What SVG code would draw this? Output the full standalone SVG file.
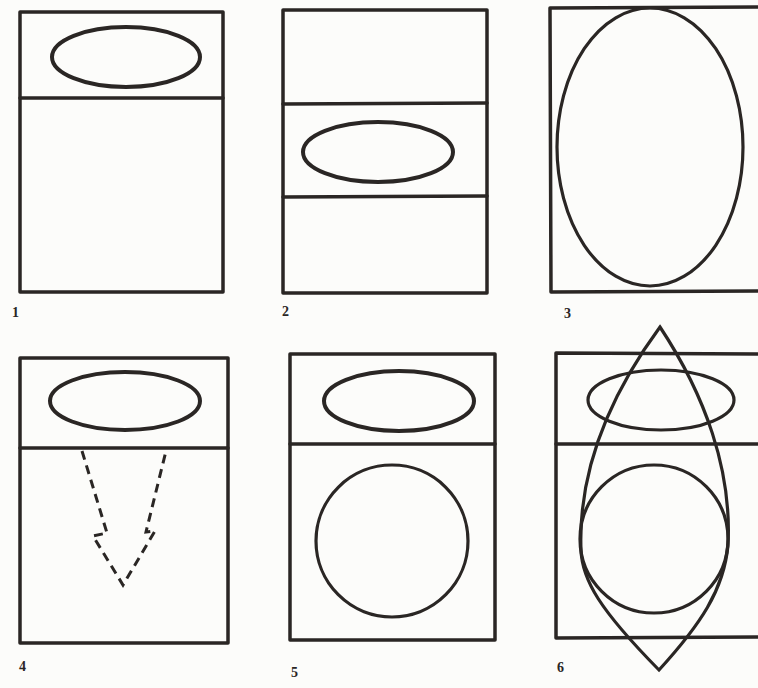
<svg xmlns="http://www.w3.org/2000/svg" width="758" height="688" viewBox="0 0 758 688">
<style>
.ln{fill:none;stroke:#2a2624;stroke-width:3.5;stroke-linejoin:round;stroke-linecap:round}
.el{fill:none;stroke:#2a2624;stroke-width:4}
.th{fill:none;stroke:#2a2624;stroke-width:3.2}
.ds{fill:none;stroke:#2a2624;stroke-width:3;stroke-dasharray:9 6;stroke-linejoin:miter}
.lb{font-family:"Liberation Serif",serif;font-weight:bold;font-size:14px;fill:#2a2624}
</style>
<rect width="758" height="688" fill="#fcfcfa"/>
<g id="panel1">
<rect class="ln" x="20" y="12" width="203" height="280"/>
<line class="ln" x1="20" y1="98" x2="223" y2="98"/>
<ellipse class="el" cx="126" cy="57" rx="74" ry="30"/>
<text class="lb" x="12" y="317">1</text>
</g>
<g id="panel2">
<rect class="ln" x="283" y="10" width="204" height="283"/>
<line class="ln" x1="283" y1="104" x2="487" y2="103"/>
<line class="ln" x1="283" y1="197" x2="487" y2="196"/>
<ellipse class="el" cx="378" cy="152" rx="75" ry="30"/>
<text class="lb" x="282" y="316">2</text>
</g>
<g id="panel3">
<polyline class="ln" points="760,7 550,8 551,292 760,291"/>
<ellipse class="th" cx="650" cy="147" rx="93" ry="139"/>
<text class="lb" x="564" y="318">3</text>
</g>
<g id="panel4">
<rect class="ln" x="20" y="358" width="208" height="285"/>
<line class="ln" x1="20" y1="448" x2="228" y2="448"/>
<ellipse class="el" cx="125" cy="401" rx="75" ry="29"/>
<polyline class="ds" points="82,451 107,533 93,536 123,585 155,531 146,532 166,451"/>
<text class="lb" x="19" y="671">4</text>
</g>
<g id="panel5">
<rect class="ln" x="290" y="354" width="205" height="286"/>
<line class="ln" x1="290" y1="444" x2="495" y2="444"/>
<ellipse class="el" cx="399" cy="401" rx="75" ry="30"/>
<circle class="th" cx="392" cy="541" r="76"/>
<text class="lb" x="291" y="677">5</text>
</g>
<g id="panel6">
<polyline class="ln" points="760,354 556,353 556,638 760,637"/>
<line class="ln" x1="556" y1="444" x2="760" y2="444"/>
<ellipse class="th" cx="661" cy="400" rx="73" ry="30"/>
<circle class="th" cx="654" cy="539" r="74"/>
<path class="th" d="M660,327 C610,395 578,470 581,550 C582,580 600,610 659,670 C700,625 724,590 728,545 C732,470 705,395 660,327 Z"/>
<text class="lb" x="557" y="672">6</text>
</g>
</svg>
